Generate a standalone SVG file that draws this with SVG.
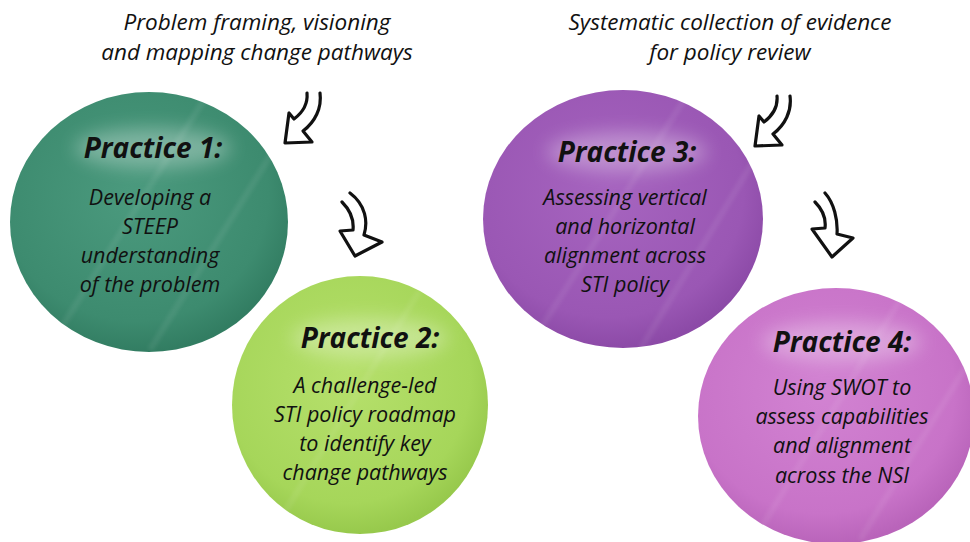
<svg xmlns="http://www.w3.org/2000/svg" width="970" height="542" viewBox="0 0 970 542">
  <style>
    .hdr { font-family: "Open Sans", "DejaVu Sans", sans-serif; font-style: italic; font-size: 22.5px; fill: #111; text-anchor: middle; }
    .ttl { font-family: "Open Sans", "DejaVu Sans", sans-serif; font-style: italic; font-weight: 700; font-size: 28px; fill: #111; text-anchor: middle; }
    .body { font-family: "Open Sans", "DejaVu Sans", sans-serif; font-style: italic; font-size: 21.5px; fill: #111; text-anchor: middle; }
    .arrow { fill: none; stroke: #111; stroke-width: 3.2; stroke-linecap: round; stroke-linejoin: round; }
    .glow { fill: #ffffff; opacity: 0.3; filter: url(#soft); }
    .streak { stroke: #ffffff; stroke-width: 6; opacity: 0.07; filter: url(#soft2); }
  </style>
  <defs>
    <filter id="soft" x="-50%" y="-100%" width="200%" height="300%">
      <feGaussianBlur stdDeviation="9"/>
    </filter>
    <filter id="soft2" x="-20%" y="-20%" width="140%" height="140%">
      <feGaussianBlur stdDeviation="2"/>
    </filter>
    <radialGradient id="g1" cx="0.45" cy="0.4" r="0.6">
      <stop offset="0" stop-color="#4b9a7e"/>
      <stop offset="0.8" stop-color="#3d8b6f"/>
      <stop offset="1" stop-color="#327d62"/>
    </radialGradient>
    <radialGradient id="g2" cx="0.45" cy="0.4" r="0.6">
      <stop offset="0" stop-color="#b6e06c"/>
      <stop offset="0.8" stop-color="#a6d65a"/>
      <stop offset="1" stop-color="#97c94c"/>
    </radialGradient>
    <radialGradient id="g3" cx="0.45" cy="0.4" r="0.6">
      <stop offset="0" stop-color="#a664bf"/>
      <stop offset="0.8" stop-color="#9a57b4"/>
      <stop offset="1" stop-color="#8c4aa7"/>
    </radialGradient>
    <radialGradient id="g4" cx="0.45" cy="0.4" r="0.6">
      <stop offset="0" stop-color="#d283d2"/>
      <stop offset="0.8" stop-color="#c873c8"/>
      <stop offset="1" stop-color="#b964ba"/>
    </radialGradient>
    <clipPath id="c1"><ellipse cx="149" cy="222" rx="139" ry="130"/></clipPath>
    <clipPath id="c2"><ellipse cx="360" cy="405" rx="128" ry="129"/></clipPath>
    <clipPath id="c3"><ellipse cx="623" cy="219" rx="140" ry="129"/></clipPath>
    <clipPath id="c4"><ellipse cx="836" cy="416" rx="138" ry="128"/></clipPath>
  </defs>

  <rect width="970" height="542" fill="#ffffff"/>

  <!-- section headings -->
  <g id="heading-left">
    <text class="hdr" x="257" y="30">Problem framing, visioning</text>
    <text class="hdr" x="257" y="60">and mapping change pathways</text>
  </g>
  <g id="heading-right">
    <text class="hdr" x="730" y="30">Systematic collection of evidence</text>
    <text class="hdr" x="730" y="60">for policy review</text>
  </g>

  <!-- practice 1 -->
  <g id="practice-1">
    <ellipse cx="149" cy="222" rx="139" ry="130" fill="url(#g1)"/>
    <g clip-path="url(#c1)">
      <line class="streak" x1="60" y1="330" x2="210" y2="90"/>
      <line class="streak" x1="150" y1="350" x2="280" y2="140"/>
    </g>
    <ellipse class="glow" cx="153" cy="148" rx="78" ry="20"/>
    <text class="ttl" x="153" y="158">Practice 1:</text>
    <text class="body" x="150" y="205">Developing a</text>
    <text class="body" x="150" y="234">STEEP</text>
    <text class="body" x="150" y="263">understanding</text>
    <text class="body" x="150" y="292">of the problem</text>
  </g>

  <!-- practice 2 -->
  <g id="practice-2">
    <ellipse cx="360" cy="405" rx="128" ry="129" fill="url(#g2)"/>
    <g clip-path="url(#c2)">
      <line class="streak" x1="280" y1="520" x2="420" y2="290"/>
    </g>
    <ellipse class="glow" cx="370" cy="338" rx="78" ry="20"/>
    <text class="ttl" x="370" y="348">Practice 2:</text>
    <text class="body" x="365" y="393">A challenge-led</text>
    <text class="body" x="365" y="422">STI policy roadmap</text>
    <text class="body" x="365" y="451">to identify key</text>
    <text class="body" x="365" y="480">change pathways</text>
  </g>

  <!-- practice 3 -->
  <g id="practice-3">
    <ellipse cx="623" cy="219" rx="140" ry="129" fill="url(#g3)"/>
    <g clip-path="url(#c3)">
      <line class="streak" x1="540" y1="330" x2="690" y2="90"/>
      <line class="streak" x1="640" y1="350" x2="760" y2="150"/>
    </g>
    <ellipse class="glow" cx="627" cy="152" rx="80" ry="20"/>
    <text class="ttl" x="627" y="162">Practice 3:</text>
    <text class="body" x="625" y="205">Assessing vertical</text>
    <text class="body" x="625" y="234">and horizontal</text>
    <text class="body" x="625" y="263">alignment across</text>
    <text class="body" x="625" y="292">STI policy</text>
  </g>

  <!-- practice 4 -->
  <g id="practice-4">
    <ellipse cx="836" cy="416" rx="138" ry="128" fill="url(#g4)"/>
    <g clip-path="url(#c4)">
      <line class="streak" x1="760" y1="530" x2="900" y2="300"/>
      <line class="streak" x1="860" y1="540" x2="970" y2="360"/>
    </g>
    <ellipse class="glow" cx="842" cy="342" rx="80" ry="20"/>
    <text class="ttl" x="842" y="352">Practice 4:</text>
    <text class="body" x="842" y="395">Using SWOT to</text>
    <text class="body" x="842" y="424">assess capabilities</text>
    <text class="body" x="842" y="453">and alignment</text>
    <text class="body" x="842" y="483">across the NSI</text>
  </g>

  <!-- hand-drawn double arrows -->
  <g id="connectors">
    <path class="arrow" d="M307,93 C308,104 302,113 294,119 L289,113 L285,143 L312,142 L303,131 C315,122 322,108 320,93"/>
    <path class="arrow" d="M342,202 C350,210 354,220 353,230 L340,231 L355,256 L382,242 L364,235 C368,222 366,205 350,193"/>
    <path class="arrow" d="M777,96 C778,107 772,116 764,122 L759,116 L755,146 L782,145 L773,134 C785,125 792,111 790,96"/>
    <path class="arrow" d="M815,202 C823,210 826,220 825,228 L812,229 L832,257 L853,238 L837,234 C838,220 834,203 825,193"/>
  </g>
</svg>
